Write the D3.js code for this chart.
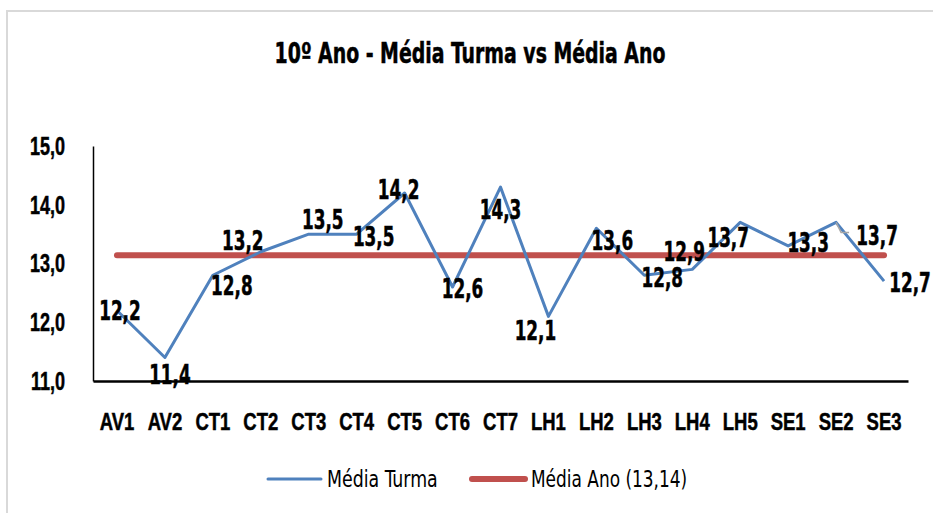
<!DOCTYPE html>
<meta charset="utf-8">
<style>

body {
    margin: 0;
    background: #fff;
}

.chart {
    font-family: "DejaVu Sans Condensed", "DejaVu Sans", sans-serif;
}

.axis path {
    stroke: #000;
}

.axis text, .label, .title {
    font-weight: bold;
    fill: #000;
    stroke: #000;
    stroke-width: 0.5px;
}

</style>
<svg class="chart" width="933" height="513"></svg>
<script src="https://d3js.org/d3.v7.min.js"></script>
<script>

var categories = ["AV1", "AV2", "CT1", "CT2", "CT3", "CT4", "CT5", "CT6", "CT7",
                  "LH1", "LH2", "LH3", "LH4", "LH5", "SE1", "SE2", "SE3"];
var mediaTurma = [12.2, 11.4, 12.8, 13.2, 13.5, 13.5, 14.2, 12.6, 14.3,
                  12.1, 13.6, 12.8, 12.9, 13.7, 13.3, 13.7, 12.7];
var mediaAno = 13.14;
var yTicks = [11, 12, 13, 14, 15];

// label offsets (px) from each point, as placed in the original
var labelOffsets = [[3, 0], [5, 17], [19, 10], [-18, -12], [14, -15], [17, 2],
                    [-6, -4], [10, 1], [0, 22], [-13, 14], [16, 12], [18, 2],
                    [-8, -18], [-12, 15], [20, -4], [41, 13], [26, 1]];

var svg = d3.select("svg"),
    margin = {top: 146, right: 25, bottom: 132, left: 93},
    width = +svg.attr("width") - margin.left - margin.right,
    height = +svg.attr("height") - margin.top - margin.bottom;

var fmt = function(v) { return d3.format(".1f")(v).replace(".", ","); };

// squeeze text horizontally, the original uses a narrow font
function condense(sel, sx) {
    sel.each(function() {
        var t = d3.select(this),
            x0 = +(t.attr("x") || 0);
        t.attr("x", x0 / sx).attr("transform", "scale(" + sx + ",1)");
    });
}

// outer border
svg.append("rect")
    .attr("x", 7)
    .attr("y", 11)
    .attr("width", 940)
    .attr("height", 520)
    .attr("fill", "none")
    .attr("stroke", "#d9d9d9")
    .attr("stroke-width", 2);

svg.append("text")
    .attr("class", "title")
    .attr("x", 470)
    .attr("y", 63)
    .attr("text-anchor", "middle")
    .style("font-size", "28px")
    .text("10º Ano - Média Turma vs Média Ano")
    .call(condense, 0.75);

var x = d3.scaleBand().domain(categories).range([0, width]),
    y = d3.scaleLinear().domain([11, 15]).range([height, 0]);

var g = svg.append("g")
    .attr("transform", "translate(" + margin.left + "," + margin.top + ")");

g.append("g")
    .attr("class", "axis axis--y")
    .call(d3.axisLeft(y).tickValues(yTicks).tickSize(0).tickPadding(28).tickFormat(fmt))
    .call(function(a) { a.select(".domain").attr("stroke-width", 1.5); })
    .selectAll("text")
    .style("font-size", "25px")
    .attr("dy", "0.33em")
    .call(condense, 0.72);

g.append("g")
    .attr("class", "axis axis--x")
    .attr("transform", "translate(0," + height + ")")
    .call(d3.axisBottom(x).tickSize(0).tickPadding(32))
    .call(function(a) { a.select(".domain").attr("stroke-width", 2.5).attr("stroke", "#222"); })
    .selectAll("text")
    .style("font-size", "24px")
    .call(condense, 0.77);

var cx = function(i) { return x(categories[i]) + x.bandwidth() / 2; };

// Média Ano reference line
g.append("line")
    .attr("x1", cx(0))
    .attr("x2", cx(categories.length - 1))
    .attr("y1", y(mediaAno))
    .attr("y2", y(mediaAno))
    .attr("stroke", "#c0504d")
    .attr("stroke-width", 6)
    .attr("stroke-linecap", "round");

var line = d3.line()
    .x(function(d, i) { return cx(i); })
    .y(function(d) { return y(d); });

g.append("path")
    .datum(mediaTurma)
    .attr("fill", "none")
    .attr("stroke", "#4f81bd")
    .attr("stroke-width", 3)
    .attr("stroke-linejoin", "round")
    .attr("d", line);

// leader line for SE2 label
var se2 = categories.indexOf("SE2");
g.append("polyline")
    .attr("points", [[cx(se2), y(mediaTurma[se2])],
                     [cx(se2) + 5, y(mediaTurma[se2]) + 10],
                     [cx(se2) + 13, y(mediaTurma[se2]) + 10]].join(" "))
    .attr("fill", "none")
    .attr("stroke", "#a6a6a6")
    .attr("stroke-width", 1.5);

g.selectAll(".label")
    .data(mediaTurma)
    .enter().append("text")
    .attr("class", "label")
    .attr("x", function(d, i) { return cx(i) + labelOffsets[i][0]; })
    .attr("y", function(d, i) { return y(d) + labelOffsets[i][1]; })
    .attr("dy", "0.38em")
    .attr("text-anchor", "middle")
    .style("font-size", "26px")
    .text(fmt)
    .call(condense, 0.72);

// legend
var legend = svg.append("g");
legend.append("line")
    .attr("x1", 268).attr("x2", 321).attr("y1", 479).attr("y2", 479)
    .attr("stroke", "#4f81bd").attr("stroke-width", 3).attr("stroke-linecap", "round");
legend.append("text")
    .attr("x", 327).attr("y", 487)
    .style("font-size", "23px")
    .text("Média Turma")
    .call(condense, 0.84);
legend.append("line")
    .attr("x1", 472).attr("x2", 525).attr("y1", 479).attr("y2", 479)
    .attr("stroke", "#c0504d").attr("stroke-width", 6).attr("stroke-linecap", "round");
legend.append("text")
    .attr("x", 531).attr("y", 487)
    .style("font-size", "23px")
    .text("Média Ano (13,14)")
    .call(condense, 0.82);

</script>
